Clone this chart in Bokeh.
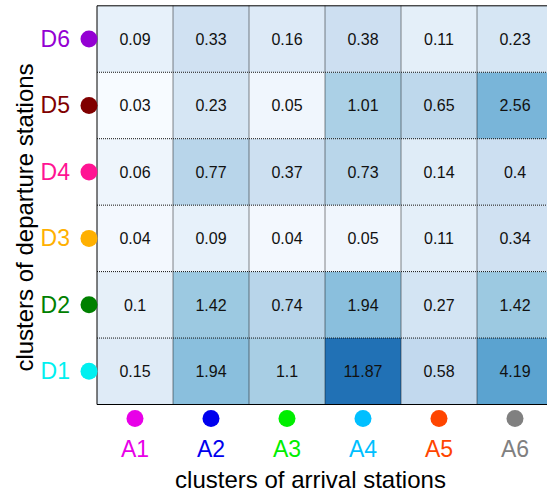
import math
from bokeh.plotting import figure
from bokeh.models import Range1d, ColumnDataSource, LogColorMapper
from bokeh.palettes import Blues256
from bokeh.transform import transform
from bokeh.core.properties import value
from bokeh.embed import file_html
from bokeh.resources import INLINE

arrival = ["A1", "A2", "A3", "A4", "A5", "A6"]
departure = ["D1", "D2", "D3", "D4", "D5", "D6"]
arrival_colors = ["#e800e8", "#0000ee", "#00ee00", "#00bfff", "#ff4500", "#808080"]
departure_colors = ["#00f0f0", "#008000", "#ffb000", "#ff1493", "#800000", "#9400d3"]

# rows = departure cluster, columns = arrival cluster
values_D1 = [0.15, 1.94, 1.1, 11.87, 0.58, 4.19]
values_D2 = [0.1, 1.42, 0.74, 1.94, 0.27, 1.42]
values_D3 = [0.04, 0.09, 0.04, 0.05, 0.11, 0.34]
values_D4 = [0.06, 0.77, 0.37, 0.73, 0.14, 0.4]
values_D5 = [0.03, 0.23, 0.05, 1.01, 0.65, 2.56]
values_D6 = [0.09, 0.33, 0.16, 0.38, 0.11, 0.23]
rows = [values_D1, values_D2, values_D3, values_D4, values_D5, values_D6]

x_title = "clusters of arrival stations"
y_title = "clusters of departure stations"

xs, ys, vals, labels = [], [], [], []
for j, row in enumerate(rows):
    for i, v in enumerate(row):
        xs.append(i + 0.5)
        ys.append(j + 0.5)
        vals.append(v)
        labels.append(str(v))
src = ColumnDataSource(dict(x=xs, y=ys, v=vals, label=labels))

FONT = "Liberation Sans"
W, H = 547, 491          # figure size (px)
CW, CH = 76, 66.45       # cell size in px
LEFT = 96.5              # heatmap left edge (px)
TOP = 5.3                # heatmap top edge (px)
BOTTOM = TOP + 6 * CH

x0 = -LEFT / CW
x1 = (W - LEFT) / CW
y1 = 6 + TOP / CH
y0 = y1 - H / CH


def dx(px):  # horizontal pixel position -> data x
    return (px - LEFT) / CW


def dy(px):  # vertical pixel position -> data y
    return (BOTTOM - px) / CH


p = figure(width=W, height=H, x_range=Range1d(x0, x1), y_range=Range1d(y0, y1),
           output_backend="svg", toolbar_location=None,
           x_axis_location=None, y_axis_location=None,
           min_border_left=0, min_border_right=0, min_border_top=0, min_border_bottom=0)
p.outline_line_color = None
p.xgrid.visible = False
p.ygrid.visible = False

# colour scale: light-to-dark Blues, with a compressed (power-like) response
lo, hi = min(vals), max(vals)
G = 0.2
base = list(Blues256[::-1])
palette = []
for k in range(256):
    v = lo * (hi / lo) ** (k / 255)
    c = (v ** G - lo ** G) / (hi ** G - lo ** G) * 0.75
    palette.append(base[min(255, max(0, round(c * 255)))])
mapper = LogColorMapper(palette=palette, low=lo, high=hi)

ncol, nrow = len(arrival), len(departure)
p.rect("x", "y", width=1, height=1, source=src, fill_color=transform("v", mapper), line_color=None)

# dotted inner grid
p.segment(x0=list(range(1, ncol)), y0=[0] * (ncol - 1), x1=list(range(1, ncol)), y1=[nrow] * (ncol - 1),
          line_color="#111111", line_dash="1 1", line_width=1)
p.segment(x0=[0] * (nrow - 1), y0=list(range(1, nrow)), x1=[ncol] * (nrow - 1), y1=list(range(1, nrow)),
          line_color="#111111", line_dash="1 1", line_width=1)
# solid frame (left, top, bottom)
p.segment(x0=[0, 0, 0], y0=[0, 0, nrow], x1=[0, ncol, ncol], y1=[nrow, 0, nrow],
          line_color="black", line_width=1)

p.text("x", "y", text="label", source=src, text_font=value(FONT), text_font_size=value("16px"),
       text_align="center", text_baseline="middle", text_color="#111111")

# category markers and labels
ry = [j + 0.5 for j in range(nrow)]
cx = [i + 0.5 for i in range(ncol)]
p.scatter(x=[dx(88.5)] * nrow, y=ry, size=17, color=departure_colors, line_color=None)
p.text(x=[dx(69.5)] * nrow, y=ry, text=departure, text_color=departure_colors,
       text_font=value(FONT), text_font_size=value("23px"), text_align="right", text_baseline="middle")
p.scatter(x=cx, y=[dy(418)] * ncol, size=17, color=arrival_colors, line_color=None)
p.text(x=cx, y=[dy(448.5)] * ncol, text=arrival, text_color=arrival_colors,
       text_font=value(FONT), text_font_size=value("23px"), text_align="center", text_baseline="middle")

# axis titles
p.text(x=[dx(310)], y=[dy(478.5)], text=[x_title], text_color="black",
       text_font=value(FONT), text_font_size=value("24px"), text_align="center", text_baseline="middle")
p.text(x=[dx(24)], y=[dy(217)], text=[y_title], text_color="black", angle=math.pi / 2,
       text_font=value(FONT), text_font_size=value("24px"), text_align="center", text_baseline="middle")

open("out.html", "w").write(file_html(p, INLINE))
